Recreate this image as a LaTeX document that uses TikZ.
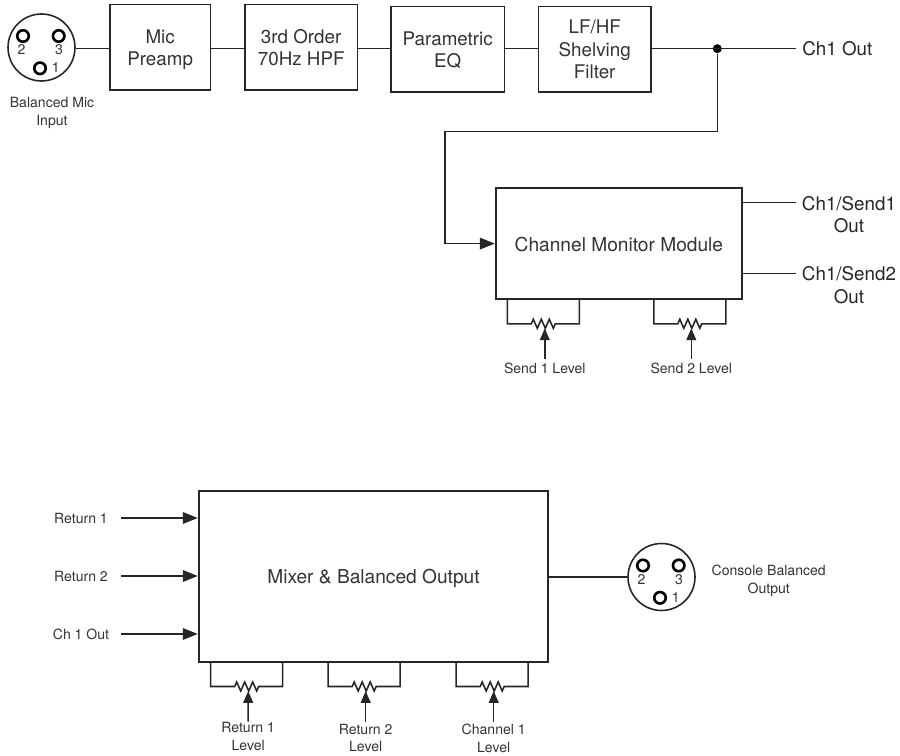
\documentclass[tikz,border=0pt]{standalone}
\usepackage{fontspec}
\setmainfont{TeX Gyre Heros}
\usetikzlibrary{positioning, arrows.meta}

\tikzset{
  wire/.style={line width=0.9pt,draw=black!85},
  feed/.style={wire,-{Triangle[length=8.5pt,width=6.6pt]},shorten >=0.3pt},
  wiperfeed/.style={wire,-{Triangle[length=6.8pt,width=5.6pt]}},
  block/.style={draw=black!85,line width=0.9pt,fill=white,align=center,text=black!80,
    inner sep=0pt,font=\fontsize{10.7}{12.7}\selectfont},
  bigblock/.style={block,font=\fontsize{10.9}{13}\selectfont},
  tag/.style={align=center,text=black!80,inner sep=0pt,font=\fontsize{8}{10.2}\selectfont},
  outtag/.style={align=center,text=black!85,inner sep=0pt,font=\fontsize{10.7}{12.8}\selectfont},
  pinring/.style={circle,draw=black,line width=1.5pt,minimum size=0.23cm,inner sep=0pt},
  xlr/.pic={
    \node[circle,draw=black!85,line width=0.9pt,fill=white,minimum size=1.34cm,inner sep=0pt] (-body) at (0,0) {};
    \node[pinring] (-p2) at (-18.5,-11.5) {};
    \node[pinring] (-p3) at (17.2,-11.5) {};
    \node[pinring] (-p1) at (-1.5,20.8) {};
    \node[tag] at (-20,2.5) {2};
    \node[tag] at (17.5,2.5) {3};
    \node[tag] at (14.2,20.5) {1};
  },
  trimpot/.pic={
    \draw[wire] (-36,0) -- (-36,24.5) -- (-12,24.5) -- (-10,20) -- (-6,29) -- (-2,20) -- (2,29) -- (6,20) -- (10,29) -- (12,24.5) -- (36,24.5) -- (36,0);
    \coordinate (-wiper) at (1.5,29);
  }
}

\begin{document}
\begin{tikzpicture}[x=0.02cm,y=-0.02cm]
\useasboundingbox (0,0) rectangle (900,756);

% top row
\coordinate (rail) at (0,48.7);
\pic (micjack) at (41.5,47.5) {xlr};
\node[tag] (miclabel) at (52,113) {Balanced Mic\\Input};
\node[block,minimum width=2.01cm,minimum height=1.706cm,text depth=0pt] (preamp) at (160.2,47.35) {Mic\\Preamp};
\node[block,minimum width=2.246cm,minimum height=1.706cm] (hpf) at (301.2,47.35) {3rd Order\\70Hz HPF};
\node[block,minimum width=2.266cm,minimum height=1.712cm,text depth=0pt] (peq) at (447.7,49.5) {Parametric\\EQ};
\node[block,minimum width=2.254cm,minimum height=1.712cm] (shelf) at (594.7,49.5) {LF/HF\\Shelving\\Filter};
\node[circle,fill=black,inner sep=0pt,minimum size=0.18cm] (tap) at (717.3,48.7) {};
\node[outtag,anchor=west] (chout) at (802,49) {Ch1 Out};
\coordinate (choutend) at (796,48.7);

\draw[wire] (micjack-body.east |- rail) -- (preamp.west |- rail);
\foreach \from/\to in {preamp/hpf,hpf/peq,peq/shelf}
  \draw[wire] (\from.east |- rail) -- (\to.west |- rail);
\draw[wire] (shelf.east |- rail) -- (tap.center |- rail) -- (choutend |- rail);

% monitor section
\node[bigblock,minimum width=4.914cm,minimum height=2.226cm,text height=9pt] (monitor) at (618.9,243.6) {Channel Monitor Module};
\coordinate (bendA) at (717.3,131.5);
\coordinate (bendB) at (445,131.5);
\draw[feed] (tap) -- (bendA) -- (bendB) |- (monitor.west);

\node[outtag] (sendout1) at (849,214.4) {Ch1/Send1\\Out};
\node[outtag] (sendout2) at (849,285) {Ch1/Send2\\Out};
\coordinate (sendend1) at (796,202.7);
\coordinate (sendend2) at (796,273.7);
\draw[wire] (monitor.east |- sendend1) -- (sendend1);
\draw[wire] (monitor.east |- sendend2) -- (sendend2);

\foreach \name/\xpos/\txt in {sendA/543.3/Send 1 Level,sendB/689.8/Send 2 Level}{
  \pic (\name) at (\xpos,299.3) {trimpot};
  \node[tag] (\name label) at (\xpos+1.5,368) {\txt};
  \draw[wiperfeed] ([yshift=1.8pt]\name label.north -| \name-wiper) -- (\name-wiper);
}

% mixer section
\node[bigblock,minimum width=6.98cm,minimum height=3.42cm,text height=10pt] (mixer) at (373.5,576.5) {Mixer \& Balanced Output};
\foreach \name/\ypos/\txt in {retA/518/Return 1,retB/576/Return 2,chan/634/Ch 1 Out}{
  \node[tag,minimum width=1.6cm] (\name) at (81,\ypos) {\txt};
  \draw[feed] (\name.east) -- (\name.east -| mixer.west);
}

\pic (conjack) at (661.5,577) {xlr};
\node[tag] (conlabel) at (768.7,580.5) {Console Balanced\\Output};
\draw[wire] (mixer.east |- conjack-body.west) -- (conjack-body.west);

\foreach \name/\xpos/\ypos/\txt in {potA/246.7/736.5/Return 1,potB/364.2/738/Return 2,potC/492.2/738/Channel 1}{
  \pic (\name) at (\xpos,662) {trimpot};
  \node[tag] (\name label) at (\xpos+1.5,\ypos) {\txt\\Level};
  \coordinate (\name start) at (\xpos+1.5,721.7);
  \draw[wiperfeed] (\name start) -- (\name-wiper);
}
\end{tikzpicture}
\end{document}
